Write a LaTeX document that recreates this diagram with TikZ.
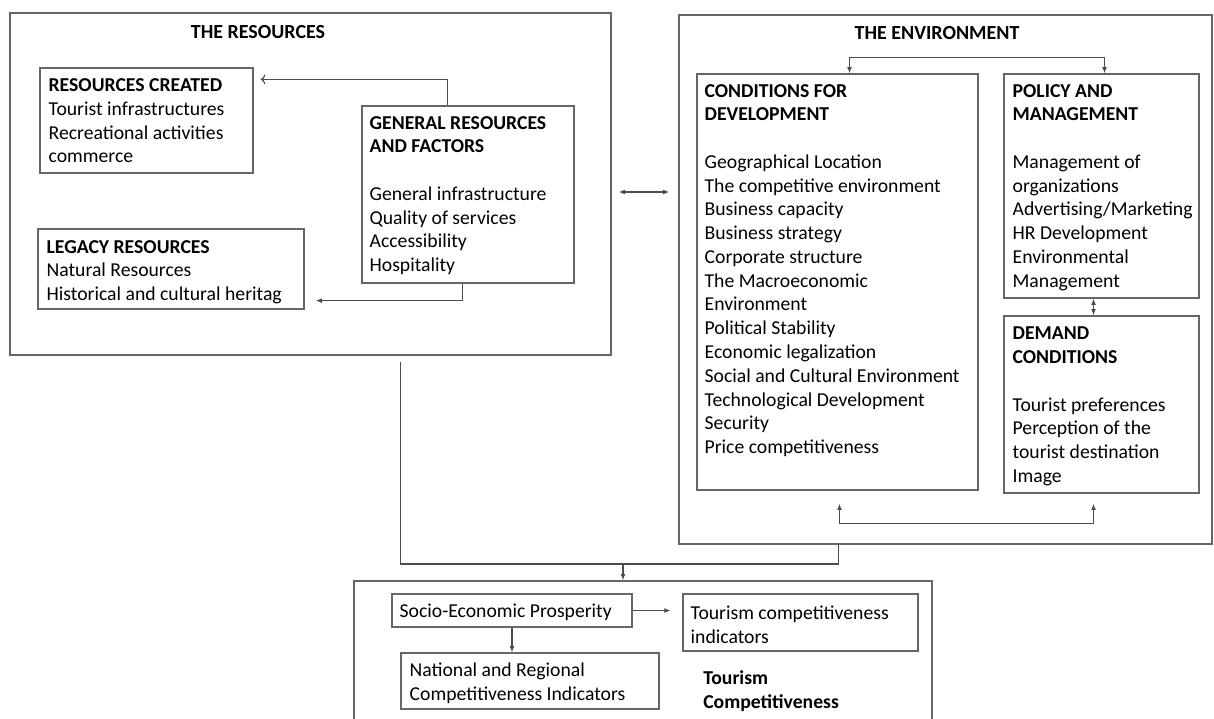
\documentclass[tikz,border=0pt]{standalone}
\usepackage{fontspec}
\setmainfont{Carlito}
\usetikzlibrary{calc}
\usetikzlibrary{fit,arrows.meta}
\tikzset{
  box/.style={draw=black!60, line width=0.9pt, inner sep=0pt},
  txt/.style={anchor=north west, align=left, inner sep=0pt, font=\fontsize{14}{16.9}\selectfont, execute at begin node=\strut},
  ttl/.style={inner sep=0pt, font=\fontsize{14.2}{16.9}\selectfont\bfseries},
  conn/.style={draw=black!70, line width=0.8pt},
  tip/.style={conn, -{Latex[length=4.5pt,width=3.5pt]}},
  twotip/.style={conn, {Latex[length=4.5pt,width=3.5pt]}-{Latex[length=4.5pt,width=3.5pt]}},
}

\begin{document}
\begin{tikzpicture}[x=0.025cm, y=-0.025cm]
    \useasboundingbox (0,0) rectangle (1214,718);
    \clip (0,0) rectangle (1214,718);
    %THE RESOURCES
    \node[box, fit={(10,13) (611,355)}] (res) {};
    \node[ttl] (restitle) at (258,32) {THE RESOURCES};
    \node[box, fit={(40,68) (253,173)}] (rc) {};
    \node[txt] (rctext) at ($(rc.north west)+(9,11)$) {\textbf{RESOURCES CREATED}\\Tourist infrastructures\\Recreational activities\\commerce};
    \node[box, fit={(362,106) (574,283)}] (gen) {};
    \node[txt] (gentext) at ($(gen.north west)+(8,10.5)$) {\textbf{GENERAL RESOURCES}\\\textbf{AND FACTORS}\\[16.9pt]General infrastructure\\Quality of services\\Accessibility\\Hospitality};
    \node[box, fit={(38,229) (304,309)}] (leg) {};
    \node[txt] (legtext) at ($(leg.north west)+(9,11.5)$) {\textbf{LEGACY RESOURCES}\\Natural Resources\\Historical and cultural heritag};
    %PANAH RESOURCES
    \draw[conn, ->] ($(gen.north west)+(86,0)$) |- ($(rc.north east)+(7,12)$);
    \draw[tip] ($(gen.south west)+(101,0)$) |- ($(leg.south east)+(11,-9)$);
    %THE ENVIRONMENT
    \node[box, fit={(679,15) (1212,544)}] (env) {};
    \node[ttl] (envtitle) at (937,33) {THE ENVIRONMENT};
    \node[box, fit={(697,74) (978,490)}] (cond) {};
    \node[txt] (condtext) at ($(cond.north west)+(8,10.5)$) {\textbf{CONDITIONS FOR}\\\textbf{DEVELOPMENT}\\[16.9pt]Geographical Location\\The competitive environment\\Business capacity\\Business strategy\\Corporate structure\\The Macroeconomic\\Environment\\Political Stability\\Economic legalization\\Social and Cultural Environment\\Technological Development\\Security\\Price competitiveness};
    \node[box, fit={(1004,74) (1199,298)}] (pol) {};
    \node[txt] (poltext) at ($(pol.north west)+(9,10.5)$) {\textbf{POLICY AND}\\\textbf{MANAGEMENT}\\[16.9pt]Management of\\organizations\\Advertising/Marketing\\HR Development\\Environmental\\Management};
    \node[box, fit={(1004,316) (1199,493)}] (dem) {};
    \node[txt] (demtext) at ($(dem.north west)+(9,11.5)$) {\textbf{DEMAND}\\\textbf{CONDITIONS}\\[16.9pt]Tourist preferences\\Perception of the\\tourist destination\\Image};
    %PANAH ENVIRONMENT
    \draw[twotip] ($(cond.north)+(12,0)$) -- ++(0,-16) -| ($(pol.north)+(3,0)$);
    \draw[twotip] ($(pol.south)+(-8,0)$) -- ($(dem.north)+(-8,0)$);
    \draw[twotip] ($(cond.south)+(2,13)$) -- ++(0,20) -| ($(dem.south)+(-8,10)$);
    \draw[twotip] ($(res.east)+(7,8)$) -- ($(env.west |- res.east)+(-9,8)$);
    %TOURISM COMPETITIVENESS
    \node[box, fit={(354,581) (932,740)}] (tc) {};
    \node[box, fit={(392,594) (632,627)}] (soc) {};
    \node[txt] (soctext) at ($(soc.north west)+(8,7.5)$) {Socio-Economic Prosperity};
    \node[box, fit={(683,594) (918,651)}] (tind) {};
    \node[txt] (tindtext) at ($(tind.north west)+(8,12.5)$) {Tourism competitiveness\\indicators};
    \node[box, fit={(401,653) (659,709)}] (nat) {};
    \node[txt] (nattext) at ($(nat.north west)+(9,10.5)$) {National and Regional\\Competitiveness Indicators};
    \node[txt, font=\fontsize{14}{16.9}\selectfont\bfseries] (tctext) at (703,670.5) {Tourism\\Competitiveness};
    %PANAH BAWAH
    \coordinate (jn) at (623,564);
    \draw[conn] ($(res.south west)+(391,6)$) |- (jn) -| ($(env.south west)+(160,0)$);
    \draw[tip] (jn) -- (jn |- tc.north);
    \draw[tip] (soc.east) -- ($(soc.east)+(38,0)$);
    \draw[tip] (soc.south) -- (soc.south |- nat.north);
\end{tikzpicture}
\end{document}
